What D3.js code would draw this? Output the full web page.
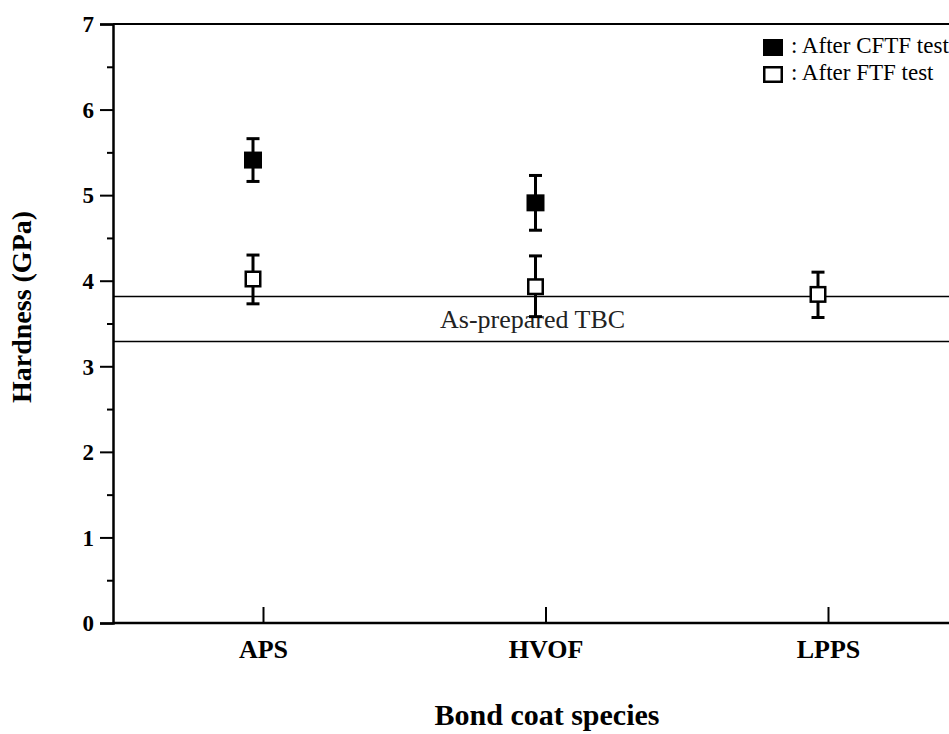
<!DOCTYPE html>
<html>
<head>
<meta charset="utf-8">
<script src="https://cdn.jsdelivr.net/npm/d3@7"></script>
<style>
  html, body { margin: 0; padding: 0; background: #fff; }
  svg { display: block; }
  text { font-family: "Liberation Serif", "Times New Roman", serif; fill: #000; }
</style>
</head>
<body>
<svg id="chart" width="949" height="734"></svg>
<script>
// Bond coat species on the x axis
const categories = ["APS", "HVOF", "LPPS"];

// Hardness after CFTF test (GPa): mean, lower and upper error limits
const cftfMean = [5.41, 4.91, null];
const cftfLow  = [5.16, 4.59, null];
const cftfHigh = [5.66, 5.23, null];

// Hardness after FTF test (GPa)
const ftfMean = [4.02, 3.93, 3.84];
const ftfLow  = [3.73, 3.58, 3.57];
const ftfHigh = [4.30, 4.29, 4.10];

// Band of the as-prepared TBC hardness (GPa)
const asPreparedBand = [3.29, 3.815];

const yTicks = [0, 1, 2, 3, 4, 5, 6, 7];
const yMinorTicks = [0.5, 1.5, 2.5, 3.5, 4.5, 5.5, 6.5];

const svg = d3.select("#chart");
const plotLeft = 113, plotRight = 949, plotTop = 24, plotBottom = 623;

const y = d3.scaleLinear().domain([0, 7]).range([plotBottom, plotTop]);
const x = d3.scalePoint().domain(categories).range([263, 828]);
const markerShift = -10;

// frame lines
svg.append("line").attr("x1", plotLeft).attr("x2", plotRight).attr("y1", y(7)).attr("y2", y(7))
  .attr("stroke", "#000").attr("stroke-width", 2);
svg.append("line").attr("x1", plotLeft).attr("x2", plotRight).attr("y1", y(0)).attr("y2", y(0))
  .attr("stroke", "#000").attr("stroke-width", 2.5);

// left axis with major and minor ticks
const yAxis = svg.append("g").attr("transform", `translate(${plotLeft},0)`)
  .call(d3.axisLeft(y).tickValues(yTicks).tickSize(13).tickPadding(6).tickFormat(d3.format("d")));
yAxis.select(".domain").attr("stroke", "#000").attr("stroke-width", 2.5);
yAxis.selectAll(".tick line").attr("stroke", "#000").attr("stroke-width", 2);
yAxis.selectAll(".tick text")
  .style("font-family", "Liberation Serif, serif").style("font-weight", "bold").style("font-size", "23px")
  .attr("dy", "0.34em");

const yMinor = svg.append("g").attr("transform", `translate(${plotLeft},0)`)
  .call(d3.axisLeft(y).tickValues(yMinorTicks).tickSize(6).tickFormat(""));
yMinor.select(".domain").remove();
yMinor.selectAll(".tick line").attr("stroke", "#000").attr("stroke-width", 2);

// category axis: ticks point into the plot
const xAxis = svg.append("g").attr("transform", `translate(0,${plotBottom})`)
  .call(d3.axisBottom(x).tickSize(-16).tickPadding(0));
xAxis.select(".domain").remove();
xAxis.selectAll(".tick line").attr("stroke", "#000").attr("stroke-width", 2);
xAxis.selectAll(".tick text")
  .style("font-family", "Liberation Serif, serif").style("font-weight", "bold").style("font-size", "26px")
  .attr("y", 35).attr("dy", 0);

// as-prepared TBC band
svg.selectAll(".band-line").data(asPreparedBand).join("line")
  .attr("class", "band-line")
  .attr("x1", plotLeft).attr("x2", plotRight)
  .attr("y1", d => y(d)).attr("y2", d => y(d))
  .attr("stroke", "#000").attr("stroke-width", 1.5);
svg.append("text").attr("x", 440).attr("y", 328)
  .style("font-size", "26px").style("fill", "#222")
  .text("As-prepared TBC");

// error bars and markers
function drawSeries(mean, low, high, filled) {
  const data = categories.map((c, i) => ({ c, m: mean[i], lo: low[i], hi: high[i] }))
    .filter(d => d.m != null);
  const g = svg.append("g");
  const cap = 6.5;
  data.forEach(d => {
    const cx = x(d.c) + markerShift;
    g.append("line").attr("x1", cx).attr("x2", cx).attr("y1", y(d.lo)).attr("y2", y(d.hi))
      .attr("stroke", "#000").attr("stroke-width", 3);
    [d.lo, d.hi].forEach(v => {
      g.append("line").attr("x1", cx - cap).attr("x2", cx + cap).attr("y1", y(v)).attr("y2", y(v))
        .attr("stroke", "#000").attr("stroke-width", 3);
    });
    if (filled) {
      g.append("rect").attr("x", cx - 9).attr("y", y(d.m) - 8.5).attr("width", 18).attr("height", 17)
        .attr("fill", "#000");
    } else {
      g.append("rect").attr("x", cx - 7.25).attr("y", y(d.m) - 7.25).attr("width", 14.5).attr("height", 14.5)
        .attr("fill", "#fff").attr("stroke", "#000").attr("stroke-width", 2.5);
    }
  });
}
drawSeries(cftfMean, cftfLow, cftfHigh, true);
drawSeries(ftfMean, ftfLow, ftfHigh, false);

// legend
const legend = svg.append("g");
legend.append("rect").attr("x", 763).attr("y", 39).attr("width", 20).attr("height", 17).attr("fill", "#000");
legend.append("rect").attr("x", 764.25).attr("y", 67.25).attr("width", 17.5).attr("height", 14.5)
  .attr("fill", "#fff").attr("stroke", "#000").attr("stroke-width", 2.5);
legend.append("text").attr("x", 791).attr("y", 53).style("font-size", "23px").text(": After CFTF test");
legend.append("text").attr("x", 791).attr("y", 80).style("font-size", "23px").text(": After FTF test");

// axis titles
svg.append("text")
  .attr("transform", `translate(31,${307}) rotate(-90)`)
  .attr("text-anchor", "middle")
  .style("font-weight", "bold").style("font-size", "28px")
  .text("Hardness (GPa)");
svg.append("text")
  .attr("x", 547).attr("y", 725)
  .attr("text-anchor", "middle")
  .style("font-weight", "bold").style("font-size", "30px")
  .text("Bond coat species");
</script>
</body>
</html>
